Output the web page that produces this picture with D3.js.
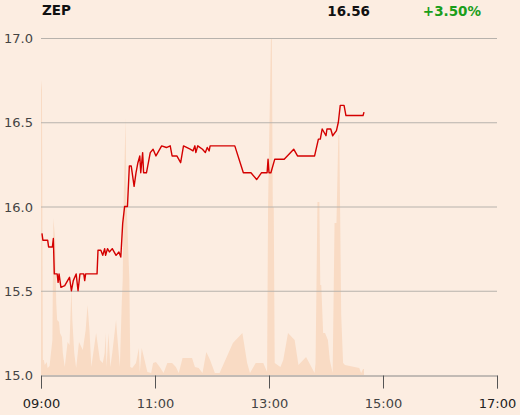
<!DOCTYPE html>
<html>
<head>
<meta charset="utf-8">
<script src="https://cdn.jsdelivr.net/npm/d3@7"></script>
<style>
  body { margin: 0; background: #fcede1; }
  svg { display: block; font-family: "DejaVu Sans", sans-serif; }
</style>
</head>
<body>
<svg id="chart" width="520" height="415"></svg>
<script>
const symbol = "ZEP";
const lastPrice = "16.56";
const change = "+3.50%";

// price ticks (time, price)
const priceTimes = ["09:01","09:02","09:07","09:08","09:12","09:13","09:14","09:17","09:18","09:19",
  "09:21","09:25","09:28","09:30","09:32","09:34","09:37","09:39","09:41","09:45","09:46","09:47",
  "09:59","10:00","10:03","10:05","10:07","10:08","10:10","10:12","10:15","10:19","10:22","10:24",
  "10:26","10:28","10:31","10:33","10:35","10:38","10:40","10:42","10:44","10:45","10:47","10:48",
  "10:51","10:55","10:58","11:01","11:07","11:12","11:16","11:18","11:23","11:27","11:30","11:37",
  "11:40","11:42","11:43","11:45","11:50","11:53","11:55","11:57","11:58","12:24","12:33","12:41",
  "12:47","12:52","12:58","12:59","13:00","13:02","13:06","13:16","13:26","13:30","13:48","13:52",
  "13:54","13:56","14:00","14:01","14:05","14:07","14:11","14:13","14:15","14:19","14:21","14:39","14:40"];
const prices = [15.84,15.80,15.80,15.76,15.76,15.81,15.60,15.60,15.55,15.60,
  15.52,15.53,15.56,15.58,15.50,15.56,15.60,15.50,15.60,15.60,15.56,15.60,
  15.60,15.74,15.74,15.71,15.75,15.71,15.75,15.73,15.75,15.71,15.73,15.70,
  15.90,16.00,16.00,16.24,16.24,16.12,16.20,16.26,16.30,16.20,16.32,16.20,
  16.20,16.32,16.34,16.30,16.36,16.35,16.36,16.30,16.30,16.26,16.36,16.34,
  16.33,16.36,16.32,16.36,16.34,16.32,16.35,16.33,16.36,16.36,16.20,16.20,
  16.16,16.20,16.20,16.28,16.20,16.20,16.28,16.28,16.34,16.30,16.30,16.40,
  16.40,16.46,16.42,16.46,16.46,16.42,16.45,16.50,16.60,16.60,16.54,16.54,16.56];

// traded volume (hundreds of shares)
const volTimes = ["09:00","09:01","09:02","09:03","09:04","09:06","09:07","09:09","09:12","09:13",
  "09:15","09:16","09:17","09:19","09:20","09:22","09:23","09:25","09:28","09:30","09:32","09:33",
  "09:35","09:37","09:40","09:44","09:47","09:49","09:51","09:53","09:54","09:58","10:02","10:05",
  "10:07","10:08","10:09","10:11","10:13","10:15","10:19","10:20","10:23","10:25","10:26","10:27",
  "10:29","10:30","10:33","10:34","10:36","10:40","10:43","10:44","10:46","10:49","10:52","10:56",
  "10:58","11:01","11:05","11:09","11:13","11:18","11:22","11:25","11:29","11:39","11:42","11:46",
  "11:50","11:54","11:58","12:03","12:08","12:22","12:32","12:37","12:40","12:46","12:54","12:58",
  "12:59","13:02","13:03","13:04","13:05","13:06","13:12","13:15","13:20","13:27","13:31","13:39",
  "13:48","13:49","13:51","13:53","13:54","13:55","13:57","13:59","14:02","14:04","14:07","14:09",
  "14:11","14:13","14:14","14:15","14:16","14:18","14:20","14:25","14:30","14:35","14:37","14:39","14:40"];
const volumes = [295,285,15,15,10,13,7,9,35,157,
  135,73,55,53,42,38,22,8,33,30,88,55,
  22,7,33,25,45,70,45,8,15,42,15,12,
  22,42,8,42,8,22,55,42,8,72,95,175,
  257,175,95,8,7,12,27,3,27,15,3,2,
  12,13,8,2,12,12,8,2,17,17,8,7,
  2,23,15,2,2,32,42,12,2,12,12,3,
  168,335,337,168,168,12,8,15,42,35,10,18,
  2,12,173,173,90,90,42,42,35,15,2,152,
  152,240,240,152,60,12,10,9,8,7,2,6,6];

const yTicks = [15.0, 15.5, 16.0, 16.5, 17.0];
const xTicks = ["09:00","11:00","13:00","15:00","17:00"];

const parseTime = d3.timeParse("%H:%M");
const priceData = priceTimes.map((t, i) => ({ t: parseTime(t), v: prices[i] }));
const volData = volTimes.map((t, i) => ({ t: parseTime(t), v: volumes[i] }));

const svg = d3.select("#chart");
const margin = { left: 41, right: 23, top: 38, bottom: 40 };
const W = 520, H = 415;

const x = d3.scaleTime()
  .domain([parseTime("09:00"), parseTime("17:00")])
  .range([margin.left, W - margin.right]);
const y = d3.scaleLinear().domain([15, 17]).range([H - margin.bottom, margin.top]);
const yVol = d3.scaleLinear().domain([0, d3.max(volumes)]).range([H - margin.bottom, margin.top]);

// volume area in background
svg.append("path")
  .datum(volData)
  .attr("fill", "#f9dbc4")
  .attr("d", d3.area().x(d => x(d.t)).y0(yVol(0)).y1(d => yVol(d.v)));

// grid lines
svg.append("g")
  .selectAll("line")
  .data(yTicks.slice(1))
  .join("line")
  .attr("x1", x.range()[0])
  .attr("x2", x.range()[1])
  .attr("y1", d => y(d) + 0.5)
  .attr("y2", d => y(d) + 0.5)
  .attr("stroke", "#b7b2ac")
  .attr("stroke-width", 1);

// y labels
svg.append("g")
  .selectAll("text")
  .data(yTicks)
  .join("text")
  .attr("x", 33)
  .attr("y", d => y(d) + 5)
  .attr("text-anchor", "end")
  .attr("font-size", 13)
  .attr("fill", "#444")
  .text(d => d.toFixed(1));

// x axis
const xAxis = svg.append("g")
  .attr("transform", `translate(0,${y(15) + 0.5})`)
  .call(d3.axisBottom(x)
    .tickValues(xTicks.map(parseTime))
    .tickFormat(d3.timeFormat("%H:%M"))
    .tickSize(13)
    .tickPadding(10));
xAxis.select(".domain").attr("stroke", "#888");
xAxis.selectAll(".tick line").attr("stroke", "#555");
xAxis.selectAll(".tick text")
  .attr("font-size", 13)
  .attr("font-family", "DejaVu Sans, sans-serif")
  .attr("fill", (d, i) => (i === 0 || i === xTicks.length - 1) ? "#222" : "#444");

// price line
svg.append("path")
  .datum(priceData)
  .attr("fill", "none")
  .attr("stroke", "#d40000")
  .attr("stroke-width", 1.4)
  .attr("stroke-linejoin", "round")
  .attr("d", d3.line().x(d => x(d.t)).y(d => y(d.v)));

// header
svg.append("text").attr("x", 42).attr("y", 15)
  .attr("font-size", 13.5).attr("font-weight", "bold").attr("fill", "#111").text(symbol);
svg.append("text").attr("x", 370).attr("y", 16).attr("text-anchor", "end")
  .attr("font-size", 13.5).attr("font-weight", "bold").attr("fill", "#111").text(lastPrice);
svg.append("text").attr("x", 481).attr("y", 16).attr("text-anchor", "end")
  .attr("font-size", 13.5).attr("font-weight", "bold").attr("fill", "#1a9e1a").text(change);
</script>
</body>
</html>
